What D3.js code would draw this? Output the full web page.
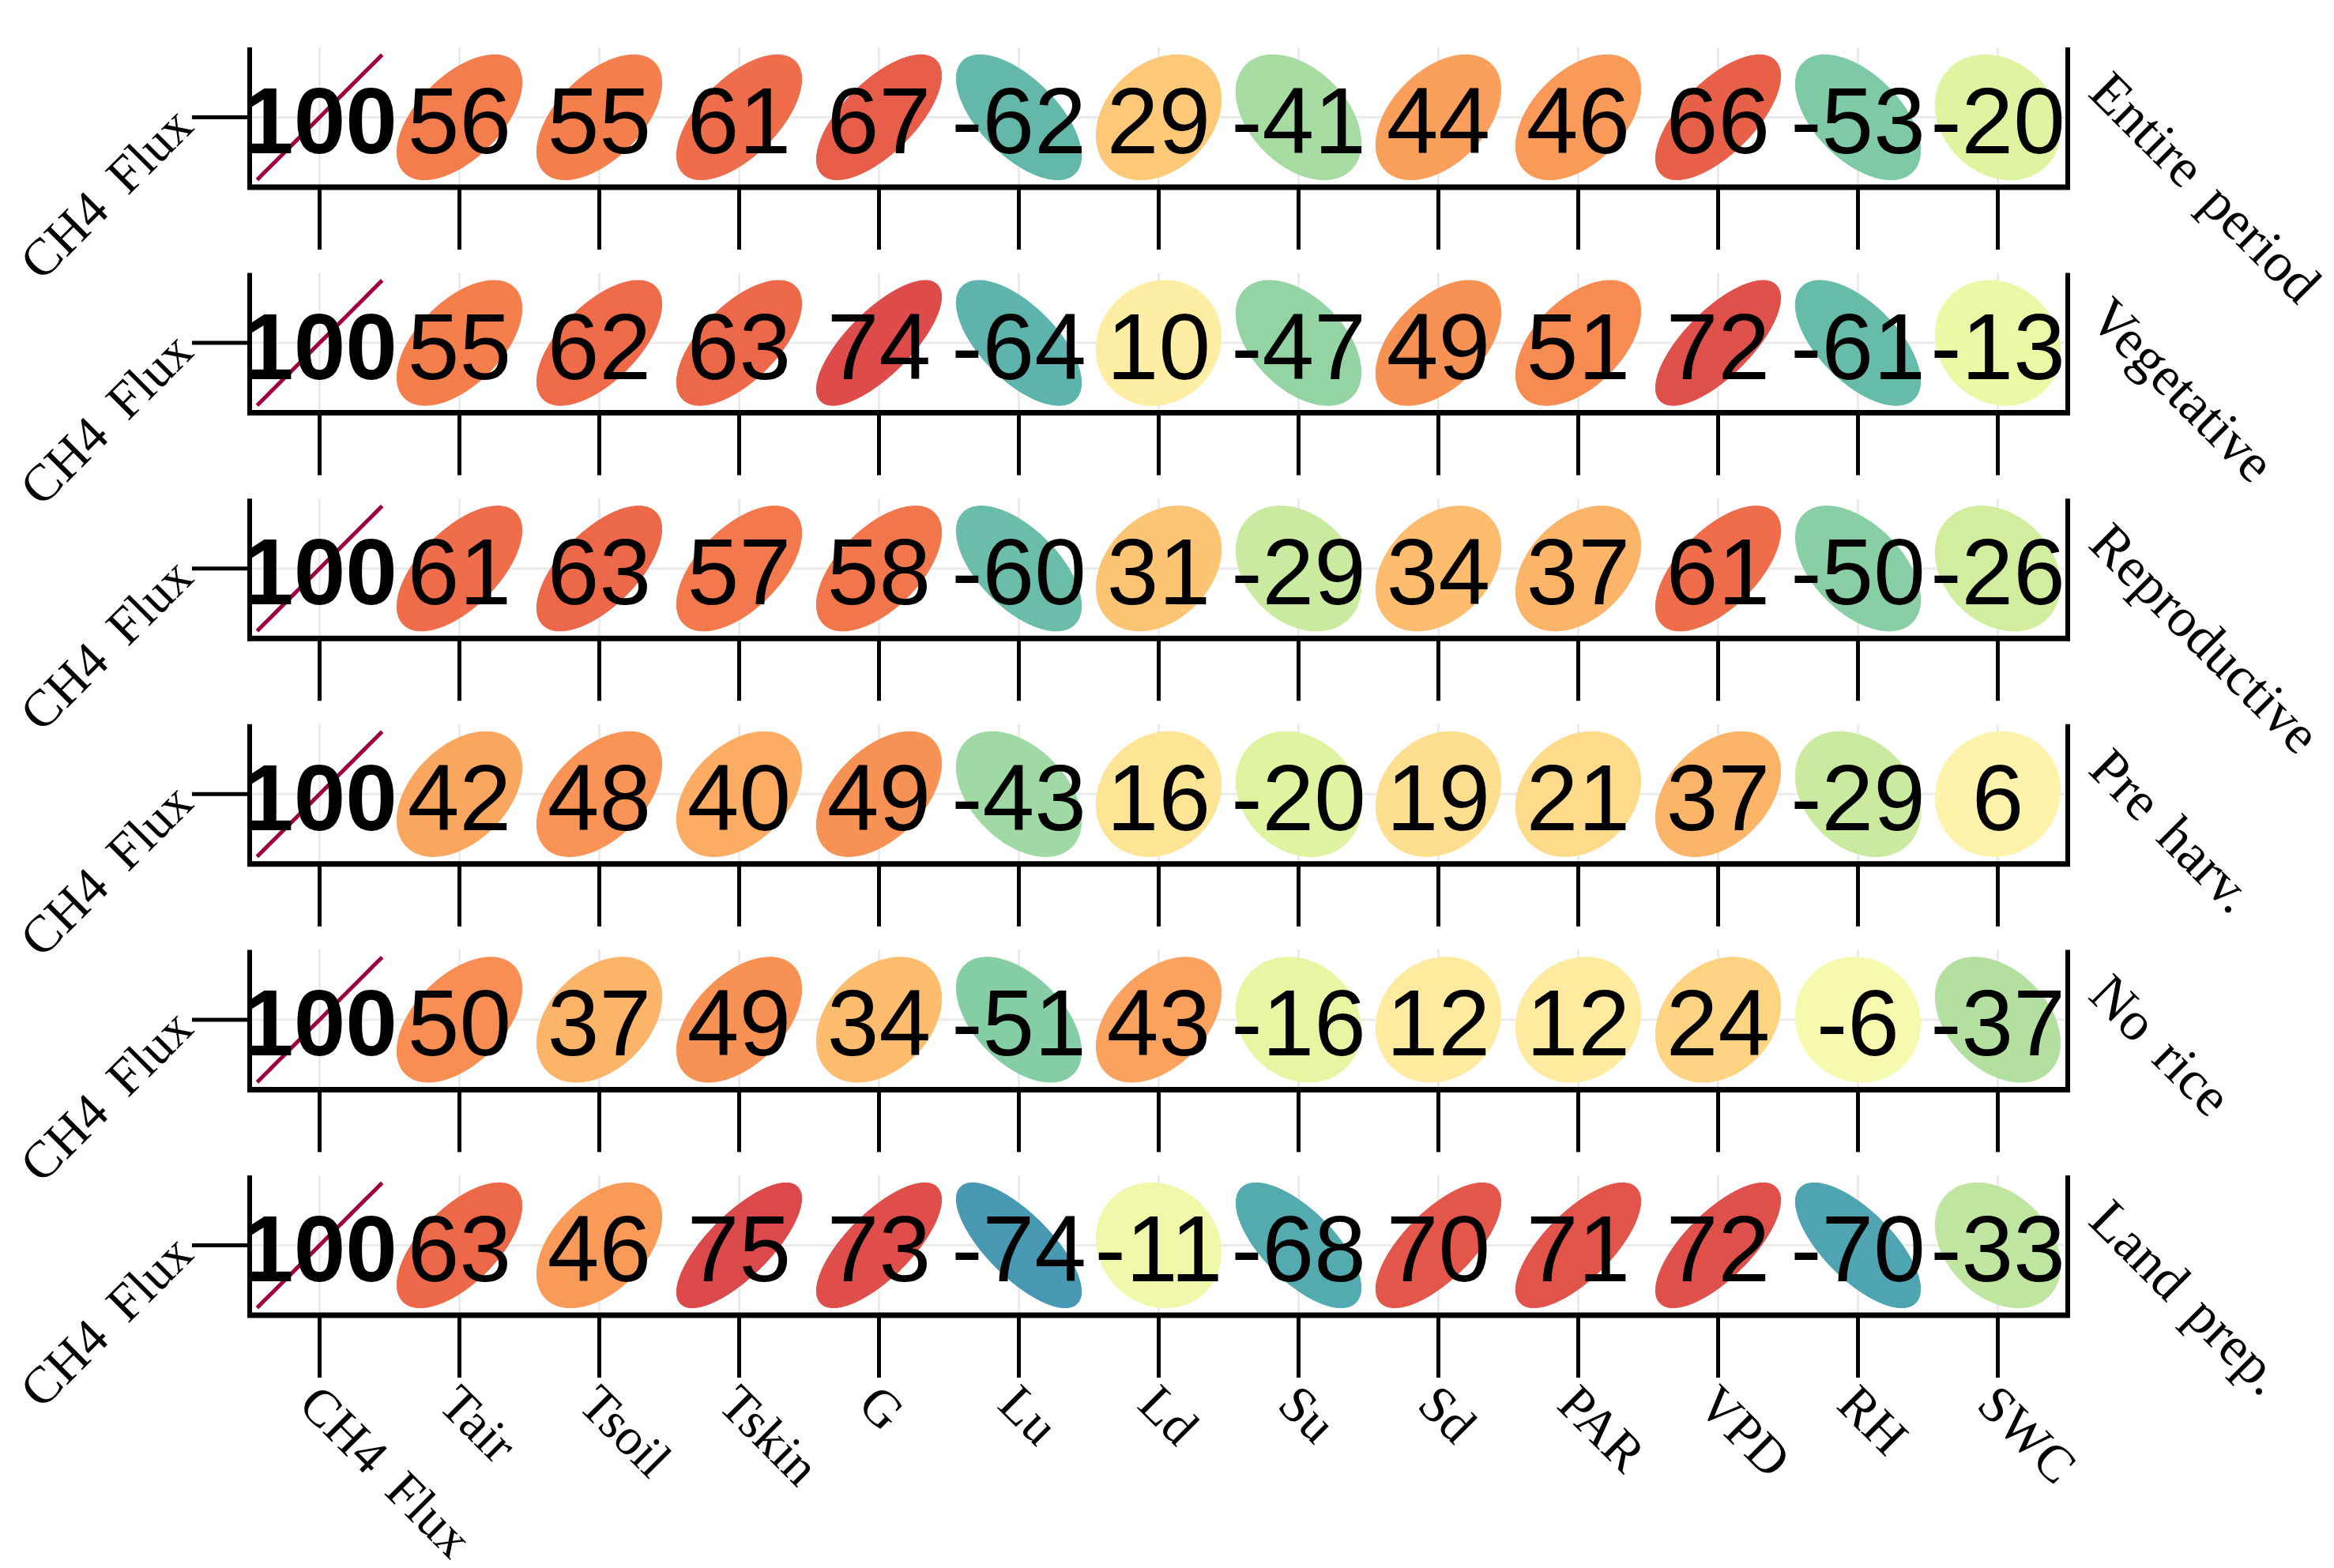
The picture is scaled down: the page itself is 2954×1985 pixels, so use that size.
<!DOCTYPE html>
<html>
<head>
<meta charset="utf-8">
<script src="https://cdn.jsdelivr.net/npm/d3@7"></script>
<style>
    html, body { margin: 0; padding: 0; background: #fff; }
    svg { display: block; }
</style>
</head>
<body>
<svg id="corrChart"></svg>
<script>
const variables = ['CH4 Flux', 'Tair', 'Tsoil', 'Tskin', 'G', 'Lu', 'Ld', 'Su', 'Sd', 'PAR', 'VPD', 'RH', 'SWC'];
const periods = ['Entire period', 'Vegetative', 'Reproductive', 'Pre harv.', 'No rice', 'Land prep.'];

// correlation with CH4 flux (x100), one list per period
const entirePeriod = [100, 56, 55, 61, 67, -62, 29, -41, 44, 46, 66, -53, -20];
const vegetative   = [100, 55, 62, 63, 74, -64, 10, -47, 49, 51, 72, -61, -13];
const reproductive = [100, 61, 63, 57, 58, -60, 31, -29, 34, 37, 61, -50, -26];
const preHarvest   = [100, 42, 48, 40, 49, -43, 16, -20, 19, 21, 37, -29, 6];
const noRice       = [100, 50, 37, 49, 34, -51, 43, -16, 12, 12, 24, -6, -37];
const landPrep     = [100, 63, 46, 75, 73, -74, -11, -68, 70, 71, 72, -70, -33];

const seriesByPeriod = [entirePeriod, vegetative, reproductive, preHarvest, noRice, landPrep];

function drawChart() {
    const width = 2954;
    const height = 1985;
    const left = 316;
    const right = 2617;
    const top = 60;
    const serif = '"Liberation Serif", "Times New Roman", serif';

    const svg = d3.select('#corrChart')
        .attr('width', width)
        .attr('height', height);

    svg.append('rect')
        .attr('width', width)
        .attr('height', height)
        .attr('fill', '#fff');

    const x = d3.scaleBand()
        .domain(variables)
        .range([left, right])
        .padding(0);

    const bw = x.bandwidth();

    const panel = d3.scaleBand()
        .domain(periods)
        .range([top, top + 285.6 * 5 + bw])
        .paddingInner(1 - bw / 285.6)
        .paddingOuter(0);

    const color = r => d3.interpolateSpectral((1 - r / 100) / 2);

    // corrplot style ellipse, bounding box fixed, shape set by r
    const angles = d3.range(0, 101).map(i => i / 100 * 2 * Math.PI);
    const ellipseScale = 0.447;

    periods.forEach((period, pi) => {
        const values = seriesByPeriod[pi];
        const pTop = panel(period);
        const pBottom = pTop + panel.bandwidth();
        const y = d3.scaleLinear()
            .domain([-0.5, 0.5])
            .range([pBottom, pTop]);
        const yMid = y(0);

        const g = svg.append('g');

        // light grid
        g.selectAll('.vgrid')
            .data(variables)
            .enter().append('line')
            .attr('x1', d => x(d) + bw / 2)
            .attr('x2', d => x(d) + bw / 2)
            .attr('y1', pTop)
            .attr('y2', pBottom)
            .attr('stroke', '#ebebeb')
            .attr('stroke-width', 3);

        g.append('line')
            .attr('x1', left)
            .attr('x2', right)
            .attr('y1', yMid)
            .attr('y2', yMid)
            .attr('stroke', '#ebebeb')
            .attr('stroke-width', 3);

        // ellipses
        const cells = variables.map((v, i) => ({ v, r: values[i] }));

        g.selectAll('.ell')
            .data(cells)
            .enter().append('path')
            .attr('class', 'ell')
            .attr('d', d => {
                const phi = Math.acos(d.r / 100) / 2;
                const cx = x(d.v) + bw / 2;
                const line = d3.line()
                    .x(t => cx + Math.cos(t + phi) * ellipseScale * bw)
                    .y(t => y(Math.cos(t - phi) * ellipseScale));
                return line(angles) + 'Z';
            })
            .attr('fill', d => color(d.r))
            .attr('stroke', d => color(d.r))
            .attr('stroke-width', d => Math.abs(d.r) === 100 ? 5 : 1);

        // numbers
        g.selectAll('.num')
            .data(cells)
            .enter().append('text')
            .attr('x', d => x(d.v) + bw / 2)
            .attr('y', yMid + 3)
            .attr('dy', '0.36em')
            .attr('text-anchor', 'middle')
            .attr('font-family', '"Liberation Sans", Arial, sans-serif')
            .attr('font-size', 118)
            .attr('font-weight', d => d.r === 100 ? 'bold' : 'normal')
            .attr('fill', '#000')
            .text(d => d.r);

        // axes frame: left, bottom, right
        g.append('line')
            .attr('x1', left).attr('x2', left)
            .attr('y1', pTop).attr('y2', pBottom + 3)
            .attr('stroke', '#000').attr('stroke-width', 6);

        g.append('line')
            .attr('x1', right).attr('x2', right)
            .attr('y1', pTop).attr('y2', pBottom + 3)
            .attr('stroke', '#000').attr('stroke-width', 6);

        g.append('line')
            .attr('x1', left - 3).attr('x2', right + 3)
            .attr('y1', pBottom).attr('y2', pBottom)
            .attr('stroke', '#000').attr('stroke-width', 7);

        // x ticks
        g.selectAll('.xtick')
            .data(variables)
            .enter().append('line')
            .attr('x1', d => x(d) + bw / 2)
            .attr('x2', d => x(d) + bw / 2)
            .attr('y1', pBottom)
            .attr('y2', pBottom + 79)
            .attr('stroke', '#000')
            .attr('stroke-width', 5);

        // y tick + label
        g.append('line')
            .attr('x1', left - 73).attr('x2', left)
            .attr('y1', yMid).attr('y2', yMid)
            .attr('stroke', '#000').attr('stroke-width', 5);

        const lx = left - 73 - 12;
        const ly = yMid - 2;
        g.append('text')
            .attr('transform', `translate(${lx},${ly}) rotate(-45)`)
            .attr('dy', '0.35em')
            .attr('text-anchor', 'end')
            .attr('font-family', serif)
            .attr('font-size', 66)
            .attr('word-spacing', '0.2em')
            .attr('fill', '#000')
            .text(variables[0]);

        // strip label
        const sx = right + 24;
        const sy = pTop + 60;
        g.append('text')
            .attr('transform', `translate(${sx},${sy}) rotate(45)`)
            .attr('text-anchor', 'start')
            .attr('font-family', serif)
            .attr('font-size', 70)
            .attr('word-spacing', '0.15em')
            .attr('fill', '#000')
            .text(period);

        // x labels only under the last panel
        if (pi === periods.length - 1) {
            g.selectAll('.xlab')
                .data(variables)
                .enter().append('text')
                .attr('transform', d => `translate(${x(d) + bw / 2},${pBottom + 87}) rotate(45)`)
                .attr('dy', '0.62em')
                .attr('text-anchor', 'start')
                .attr('font-family', serif)
                .attr('font-size', 66)
                .attr('word-spacing', '0.2em')
                .attr('fill', '#000')
                .text(d => d);
        }
    });
}

document.addEventListener('DOMContentLoaded', drawChart);
</script>
</body>
</html>
